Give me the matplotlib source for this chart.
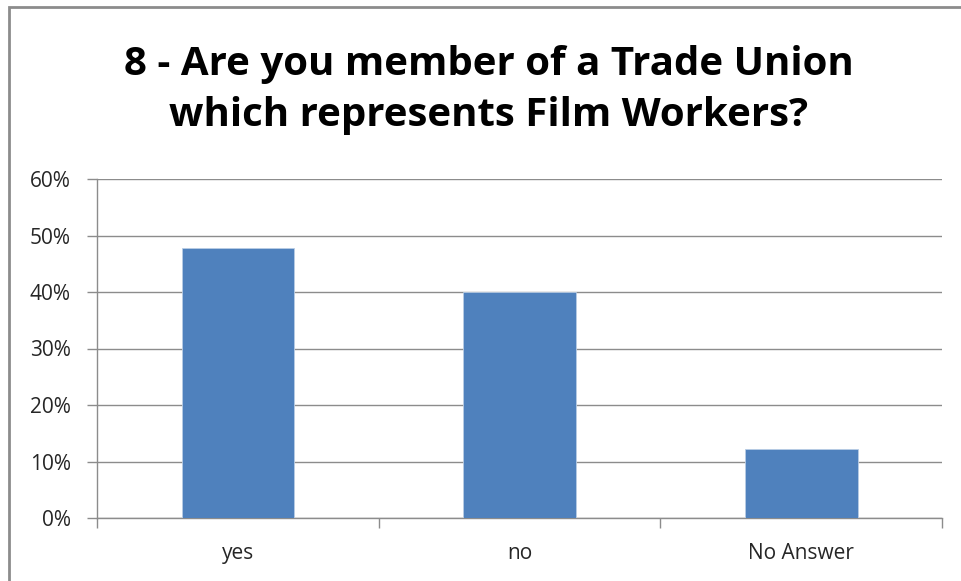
import matplotlib
matplotlib.use("Agg")
import matplotlib.pyplot as plt
from matplotlib.patches import Rectangle
from matplotlib.ticker import FuncFormatter, FixedLocator

categories = ["yes", "no", "No Answer"]
shares = [0.477, 0.400, 0.122]
title = "8 - Are you member of a Trade Union\nwhich represents Film Workers?"

W, H = 962, 581
fig = plt.figure(figsize=(W / 100, H / 100), dpi=100)

# outer chart frame (cut on right/bottom as in the screenshot)
fig.patches.append(Rectangle((9 / W, -0.05), 1.1, 1 - 7 / H + 0.05,
                             transform=fig.transFigure, fill=False,
                             edgecolor="#8c8c8c", linewidth=2))

left, right, top, bottom = 97, 942, 179, 518
ax = fig.add_axes([left / W, 1 - bottom / H, (right - left) / W, (bottom - top) / H])

x = range(len(categories))
ax.bar(x, shares, width=0.4, color="#4f81bd", edgecolor="#b9cde5", linewidth=0.6, zorder=3)

ax.set_xlim(-0.5, len(categories) - 0.5)
ax.set_ylim(0, 0.6)
ax.set_yticks([i / 10 for i in range(7)])
ax.yaxis.set_major_formatter(FuncFormatter(lambda v, _: f"{v * 100:.0f}%"))
ax.grid(axis="y", color="#8c8c8c", linewidth=1, zorder=0)

ax.set_xticks(list(x))
ax.set_xticklabels(categories)
ax.xaxis.set_minor_locator(FixedLocator([i - 0.5 for i in range(len(categories) + 1)]))
ax.tick_params(axis="x", which="major", length=0, pad=18, labelsize=15, labelcolor="#262626")
ax.tick_params(axis="x", which="minor", length=7, width=1, color="#8c8c8c", direction="out")
ax.tick_params(axis="y", length=7, width=1, color="#8c8c8c", pad=12, labelsize=15, labelcolor="#262626")

for side in ("top", "right"):
    ax.spines[side].set_visible(False)
for side in ("left", "bottom"):
    ax.spines[side].set_color("#8c8c8c")
    ax.spines[side].set_linewidth(1)

for lab in ax.get_xticklabels() + ax.get_yticklabels():
    lab.set_family(["Open Sans", "DejaVu Sans"])

fig.text(489 / W, 1 - 90 / H, title, ha="center", va="center", fontsize=29,
         fontweight="bold", family=["Open Sans", "DejaVu Sans"], linespacing=1.42)

fig.savefig("out.png", dpi=100)
